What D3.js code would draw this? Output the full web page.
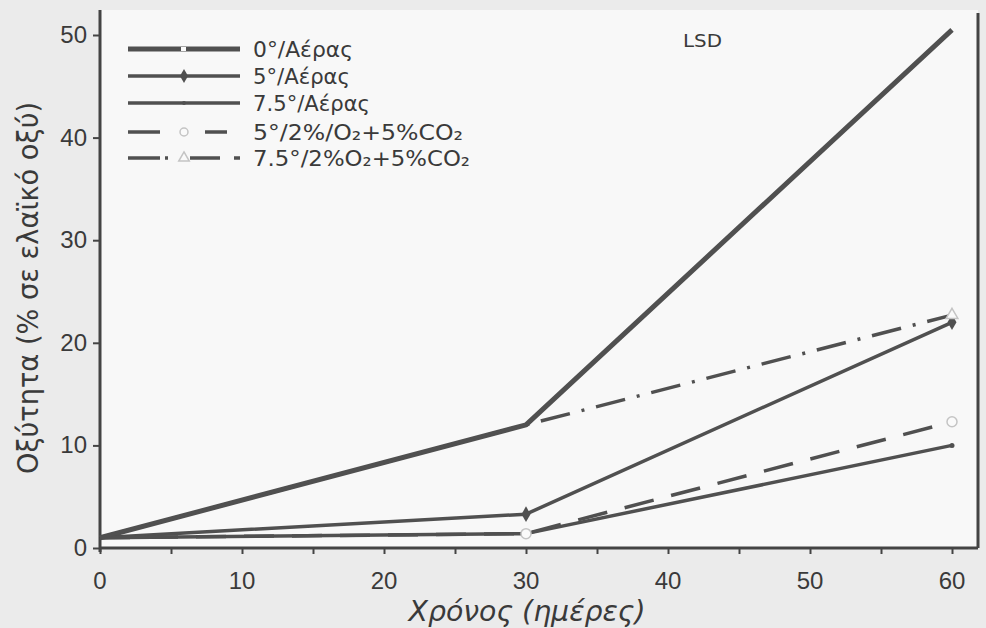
<!DOCTYPE html>
<html>
<head>
<meta charset="utf-8">
<script src="https://d3js.org/d3.v7.min.js"></script>
<title>Οξύτητα</title>
<style>
  body { margin: 0; background: #ebebeb; }
  svg text { font-family: "Liberation Sans", Arial, sans-serif; fill: #3a3a3a; }
  svg text.wide { font-family: "DejaVu Sans", sans-serif; }
</style>
</head>
<body>
<script>
// days on the x axis
var days = [0, 30, 60];

// one array of acidity values per storage condition
var air0 = [1, 12, 50.5];
var air5 = [1, 3.3, 22];
var air75 = [1, 1.4, 10];
var ca5 = [1, 1.4, 12.3];
var ca75 = [1, 12, 22.7];

var seriesNames = ["0°/Αέρας", "5°/Αέρας", "7.5°/Αέρας", "5°/2%/O₂+5%CO₂", "7.5°/2%O₂+5%CO₂"];
var xTicks = [0, 10, 20, 30, 40, 50, 60];
var yTicks = [0, 10, 20, 30, 40, 50];

// line styles per series
var styles = [
  { width: 5, dash: null, legendDash: null, marker: "square" },
  { width: 3.5, dash: null, legendDash: null, marker: "diamond" },
  { width: 3.5, dash: null, legendDash: null, marker: "dot" },
  { width: 3.5, dash: "30,18", legendDash: "32,22,3,20,22,14", marker: "circle" },
  { width: 3.5, dash: "30,12,3,12", legendDash: "32,5,3,22,30,14,6,20", marker: "triangle" }
];
var legendWidths = [100, 97, 117, 210, 217];
var seriesValues = [air0, air5, air75, ca5, ca75];
var ink = "#505050";

var W = 986, H = 628;
var svg = d3.select("body").append("svg")
    .attr("width", W).attr("height", H);

var x = d3.scaleLinear().domain([0, 60]).range([100, 952]);
var y = d3.scaleLinear().domain([0, 50]).range([548, 35]);

// plot paper
svg.append("rect").attr("x", 100).attr("y", 10).attr("width", 878).attr("height", 538)
    .attr("fill", "#f8f8f8");

// right frame line
svg.append("line").attr("x1", 978).attr("x2", 978).attr("y1", 13).attr("y2", 548)
    .attr("stroke", "#444").attr("stroke-width", 3);

// axes
var xAxis = svg.append("g").attr("transform", "translate(0,548)")
    .call(d3.axisBottom(x).tickValues(d3.range(0, 61, 5)).tickSize(6).tickFormat(""));
xAxis.select(".domain").attr("d", "M100,0H978").attr("stroke", "#444").attr("stroke-width", 3);
xAxis.selectAll(".tick line").attr("stroke", "#444").attr("stroke-width", 2);

svg.selectAll(".xlab").data(xTicks).enter().append("text")
    .attr("x", function(d) { return x(d); })
    .attr("y", 589)
    .attr("text-anchor", "middle")
    .attr("font-size", 24)
    .text(function(d) { return d; });

var yAxis = svg.append("g").attr("transform", "translate(100,0)")
    .call(d3.axisLeft(y).tickValues(yTicks).tickSize(7).tickFormat(""));
yAxis.select(".domain").attr("d", "M0,10V552").attr("stroke", "#444").attr("stroke-width", 3);
yAxis.selectAll(".tick line").attr("stroke", "#444").attr("stroke-width", 2);

svg.selectAll(".ylab").data(yTicks).enter().append("text")
    .attr("x", 87)
    .attr("y", function(d) { return y(d) + 8; })
    .attr("text-anchor", "end")
    .attr("font-size", 24)
    .text(function(d) { return d; });

// axis titles
svg.append("text")
    .attr("class", "wide")
    .attr("transform", "translate(38,288) rotate(-90)")
    .attr("text-anchor", "middle")
    .attr("font-size", 28)
    .attr("textLength", 372)
    .attr("lengthAdjust", "spacingAndGlyphs")
    .text("Οξύτητα (% σε ελαϊκό οξύ)");

svg.append("text")
    .attr("class", "wide")
    .attr("x", 527).attr("y", 621)
    .attr("text-anchor", "middle")
    .attr("font-size", 28)
    .attr("font-style", "italic")
    .attr("textLength", 237)
    .attr("lengthAdjust", "spacingAndGlyphs")
    .text("Χρόνος (ημέρες)");

svg.append("text")
    .attr("class", "wide")
    .attr("x", 683).attr("y", 47)
    .attr("font-size", 18)
    .attr("textLength", 39)
    .attr("lengthAdjust", "spacingAndGlyphs")
    .attr("fill", "#555")
    .text("LSD");

// lines
var line = d3.line()
    .x(function(d, i) { return x(days[i]); })
    .y(function(d) { return y(d); });

function drawMarker(g, kind, cx, cy, s) {
  if (kind === "diamond") {
    g.append("path").attr("d", d3.symbol(d3.symbolDiamond, 70 * s)())
      .attr("transform", "translate(" + cx + "," + cy + ")").attr("fill", ink);
  } else if (kind === "circle") {
    g.append("circle").attr("cx", cx).attr("cy", cy).attr("r", 5 * s)
      .attr("fill", "#fafafa").attr("stroke", "#c4c4c4").attr("stroke-width", 1.5);
  } else if (kind === "triangle") {
    g.append("path").attr("d", d3.symbol(d3.symbolTriangle, 60 * s)())
      .attr("transform", "translate(" + cx + "," + cy + ")")
      .attr("fill", "#fafafa").attr("stroke", "#c4c4c4").attr("stroke-width", 1.5);
  } else if (kind === "square") {
    g.append("rect").attr("x", cx - 3).attr("y", cy - 2).attr("width", 5).attr("height", 4)
      .attr("fill", "#fafafa");
  } else if (kind === "dot") {
    g.append("circle").attr("cx", cx).attr("cy", cy).attr("r", 2.5 * s).attr("fill", ink);
  }
}

var plot = svg.append("g");
seriesValues.forEach(function(vals, k) {
  var st = styles[k];
  plot.append("path")
    .datum(vals)
    .attr("d", line)
    .attr("fill", "none")
    .attr("stroke", ink)
    .attr("stroke-width", st.width)
    .attr("stroke-linejoin", "round")
    .attr("stroke-dasharray", st.dash);
});
// markers on the data points (the triangle at day 30 is hidden under the 0° line)
seriesValues.forEach(function(vals, k) {
  var kind = styles[k].marker;
  if (kind === "square") return;
  vals.forEach(function(v, i) {
    if (i === 0) return;
    if (kind === "triangle" && i === 1) return;
    drawMarker(plot, kind, x(days[i]), y(v), 1);
  });
});

// legend
var legend = svg.append("g");
var rowY = [49, 76, 103, 132, 158];
seriesNames.forEach(function(name, k) {
  var st = styles[k];
  var g = legend.append("g");
  g.append("line")
    .attr("x1", 128).attr("x2", 240)
    .attr("y1", rowY[k]).attr("y2", rowY[k])
    .attr("stroke", ink)
    .attr("stroke-width", st.width)
    .attr("stroke-dasharray", st.legendDash);
  drawMarker(g, st.marker, 184, rowY[k], 0.8);
  g.append("text")
    .attr("class", "wide")
    .attr("x", 253).attr("y", rowY[k] + 8)
    .attr("font-size", 21)
    .attr("textLength", legendWidths[k])
    .attr("lengthAdjust", "spacingAndGlyphs")
    .text(name);
});
</script>
</body>
</html>
